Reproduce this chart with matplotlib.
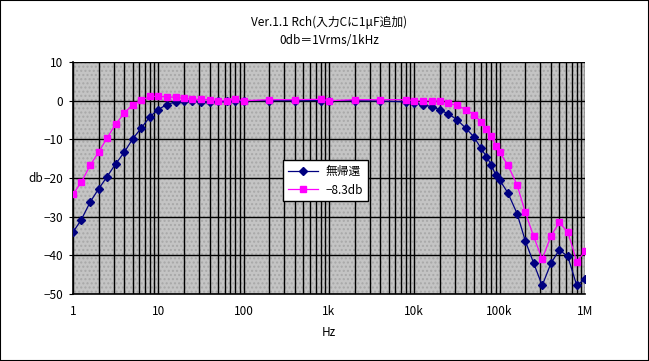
import matplotlib
matplotlib.use("Agg")
import matplotlib.pyplot as plt
from matplotlib.ticker import FixedLocator, LogLocator, NullFormatter
from matplotlib.patches import Rectangle

plt.rcParams['font.family'] = ['Noto Sans CJK JP', 'DejaVu Sans']
plt.rcParams['hatch.linewidth'] = 1.0
plt.rcParams['hatch.color'] = '#a8a8a8'

title = "Ver.1.1 Rch(入力Cに1μF追加)\n0db＝1Vrms/1kHz"
series_names = ["無帰還", "−8.3db"]

freq = [1, 1.25, 1.6, 2, 2.5, 3.15, 4, 5, 6.3, 8, 10, 12.5, 16, 20, 25, 31.5, 40, 50, 63, 80, 100,
        200, 400, 800, 1000, 2000, 4000, 8000, 10000, 12500, 16000, 20000, 25000, 31500, 40000,
        50000, 60000, 70000, 80000, 90000, 100000, 125000, 160000, 200000, 250000, 315000,
        400000, 500000, 630000, 800000, 1000000]

db_nfb_off = [-34.0, -30.8, -26.1, -22.8, -19.7, -16.4, -13.3, -9.9, -7.1, -4.1, -2.3, -1.0, -0.3,
              -0.2, -0.1, -0.3, -0.3, -0.2, -0.1, 0.0, 0.0,
              0.0, 0.0, 0.0, 0.0, 0.0, -0.1, -0.3, -0.7, -1.0, -1.55, -2.4, -3.4, -4.9, -7.1,
              -9.4, -12.2, -14.5, -16.6, -19.3, -20.5, -23.9, -29.2, -36.3, -42.0, -47.8,
              -42.0, -38.6, -40.3, -47.8, -46.1]

db_nfb_83 = [-24.2, -21.1, -16.6, -13.3, -9.7, -6.1, -3.2, -1.0, 0.1, 1.1, 1.1, 1.0, 0.85,
             0.6, 0.35, 0.35, 0.26, 0.0, 0.0, 0.35, 0.0,
             0.26, 0.26, 0.35, 0.0, 0.26, 0.26, 0.26, 0.0, 0.0, 0.0, -0.2, -0.7, -1.2, -2.3,
             -3.6, -5.4, -7.3, -9.2, -11.6, -13.4, -16.7, -21.8, -28.9, -35.1, -41.0,
             -34.9, -31.5, -34.0, -41.6, -39.0]

x_ticks = [1, 10, 100, 1000, 10000, 100000, 1000000]
x_ticklabels = ["1", "10", "100", "1k", "10k", "100k", "1M"]
y_ticks = [10, 0, -10, -20, -30, -40, -50]

fig = plt.figure(figsize=(6.49, 3.61), dpi=100)
ax = fig.add_axes([73/649, 1-294/361, 512/649, 232/361])

ax.set_xscale('log')
ax.set_xlim(1, 1e6)
ax.set_ylim(-50, 10)

ax.set_facecolor('#c4c4c4')
bg = Rectangle((0, 0), 1, 1, transform=ax.transAxes, facecolor='#c4c4c4',
               hatch='....', edgecolor='#a8a8a8', linewidth=0, zorder=0.1)
ax.add_patch(bg)

ax.xaxis.set_major_locator(FixedLocator(x_ticks))
ax.set_xticklabels(x_ticklabels)
ax.xaxis.set_minor_locator(LogLocator(base=10, subs=range(2, 10), numticks=20))
ax.xaxis.set_minor_formatter(NullFormatter())
ax.set_yticks(y_ticks)
ax.set_yticklabels([f"{v}".replace('-', '−') for v in y_ticks])

ax.grid(True, which='major', axis='both', color='black', linewidth=1.0, zorder=1)
ax.grid(True, which='minor', axis='x', color='black', linewidth=1.0, zorder=1)
ax.set_axisbelow(True)

ax.tick_params(axis='both', which='major', length=3, labelsize=8.5, color='black', pad=4)
ax.tick_params(axis='x', which='minor', length=0)
ax.tick_params(axis='x', which='major', length=0, pad=8)

ax.plot(freq, db_nfb_off, color='#000080', marker='D', markersize=4, linewidth=0.9,
        label=series_names[0], zorder=3)
ax.plot(freq, db_nfb_83, color='#ff00ff', marker='s', markersize=5, linewidth=0.9,
        label=series_names[1], zorder=4)

for s in ['top', 'right']:
    ax.spines[s].set_visible(False)
for s in ['left', 'bottom']:
    ax.spines[s].set_color('black')
    ax.spines[s].set_linewidth(1.2)

ax.set_xlabel("Hz", fontsize=8.5, labelpad=6)
ax.set_ylabel("db", fontsize=8.5, rotation=0, va='center', ha='center')
ax.yaxis.set_label_coords((36-73)/512, 0.5)

leg = ax.legend(loc='upper left', bbox_to_anchor=((283-73)/512, (294-160)/232),
                fontsize=8.5, frameon=True, fancybox=False, edgecolor='black',
                framealpha=1, borderpad=0.4, handlelength=2.6, handletextpad=0.6,
                labelspacing=0.5, borderaxespad=0)
leg.get_frame().set_linewidth(1.0)

fig.text(329/649, 1-22/361, title.split("\n")[0], ha='center', va='center', fontsize=8.5)
fig.text(329/649, 1-41/361, title.split("\n")[1], ha='center', va='center', fontsize=8.5)

fig.patches.append(Rectangle((0, 0), 1, 1, transform=fig.transFigure, fill=False,
                             edgecolor='black', linewidth=1.5))

fig.savefig("out.png", dpi=100)
